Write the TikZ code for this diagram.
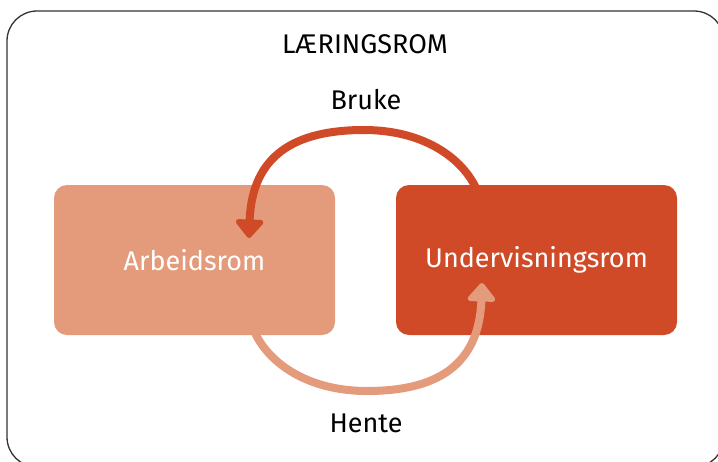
\documentclass[tikz,border=0pt]{standalone}
\usepackage{fontspec}
\setmainfont{Fira Sans}
\usetikzlibrary{arrows.meta}
\definecolor{lightor}{HTML}{E39B7B}
\definecolor{darkor}{HTML}{D04A27}
\begin{document}
\begin{tikzpicture}[x=1pt,y=-1pt,
  box/.style={rounded corners=13pt, minimum width=281pt, minimum height=150pt,
    inner sep=0pt, text=white, font=\fontsize{27}{32}\selectfont},
  lbl/.style={font=\fontsize{27}{32}\selectfont, inner sep=0pt, text=black},
  flow/.style={line width=8pt, -{Triangle[width=32pt,length=20pt,round]}},
  frame/.style={draw=black!80, line width=1.3pt, rounded corners=30pt}
]
\useasboundingbox (0,0) rectangle (718,461);
\clip (0,0) rectangle (718,461);
\fill[white] (0,0) rectangle (718,461);
\draw[frame] (7,11) rectangle (724,467);
\node[lbl] (title) at (365,44) {LÆRINGSROM};
\node[lbl] (bruke) at (366,100) {Bruke};
\node[lbl] (hente) at (366,423) {Hente};
\node[box, fill=lightor] (arb) at (194.5,260) {Arbeidsrom};
\node[box, fill=darkor] (und) at (536.5,260) {Undervisningsrom};
% top arrow: Undervisningsrom -> Arbeidsrom
\coordinate (tS) at (476,188);
\coordinate (tM) at (364,130);
\coordinate (tE) at (249,238);
\draw[flow, draw=darkor] (tS) .. controls (460,155) and (420,130) .. (tM)
  .. controls (295,130) and (252,155) .. (tE);
% bottom arrow: Arbeidsrom -> Undervisningsrom
\coordinate (bS) at (255,333);
\coordinate (bM) at (367,391);
\coordinate (bE) at (482,283);
\draw[flow, draw=lightor] (bS) .. controls (271,366) and (311,391) .. (bM)
  .. controls (436,391) and (479,366) .. (bE);
\end{tikzpicture}
\end{document}
